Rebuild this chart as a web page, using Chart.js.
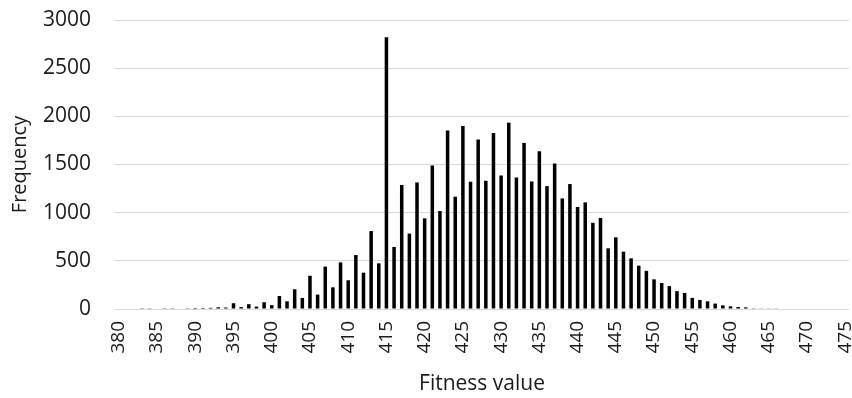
<!DOCTYPE html>
<html>
<head>
<meta charset="utf-8">
<script src="https://cdn.jsdelivr.net/npm/chart.js@4/dist/chart.umd.min.js"></script>
<style>
  html, body { margin: 0; padding: 0; background: #fff; }
  #wrap { width: 852px; height: 398px; position: relative; }
</style>
</head>
<body>
<div id="wrap"><canvas id="chart"></canvas></div>
<script>
const fitness = [
  380, 381, 382, 383, 384, 385, 386, 387, 388, 389,
  390, 391, 392, 393, 394, 395, 396, 397, 398, 399,
  400, 401, 402, 403, 404, 405, 406, 407, 408, 409,
  410, 411, 412, 413, 414, 415, 416, 417, 418, 419,
  420, 421, 422, 423, 424, 425, 426, 427, 428, 429,
  430, 431, 432, 433, 434, 435, 436, 437, 438, 439,
  440, 441, 442, 443, 444, 445, 446, 447, 448, 449,
  450, 451, 452, 453, 454, 455, 456, 457, 458, 459,
  460, 461, 462, 463, 464, 465, 466, 467, 468, 469,
  470, 471, 472, 473, 474, 475
];

const frequency = [
  0, 0, 0, 8, 8, 0, 8, 8, 0, 8,
  10, 10, 12, 18, 15, 60, 20, 50, 25, 70,
  40, 135, 80, 205, 115, 345, 150, 440, 225, 484,
  298, 560, 377, 810, 474, 2820, 644, 1287, 783, 1314,
  941, 1490, 1017, 1852, 1166, 1900, 1321, 1759, 1331, 1828,
  1386, 1934, 1366, 1724, 1324, 1638, 1276, 1510, 1148, 1297,
  1059, 1107, 895, 945, 630, 744, 595, 526, 450, 396,
  308, 270, 238, 186, 166, 115, 94, 80, 56, 38,
  28, 21, 17, 8, 7, 7, 7, 5, 0, 5,
  0, 0, 0, 0, 0, 5
];

const xTickLabels = ['380', '385', '390', '395', '400', '405', '410', '415', '420', '425',
  '430', '435', '440', '445', '450', '455', '460', '465', '470', '475'];
const yTicks = [0, 500, 1000, 1500, 2000, 2500, 3000];

const textColor = '#1a1a1a';
const fontFamily = "'Open Sans', 'Liberation Sans', sans-serif";

const ctx = document.getElementById('chart').getContext('2d');
new Chart(ctx, {
    type: 'bar',
    data: {
        labels: fitness.map(String),
        datasets: [
            { label: 'Frequency', data: frequency, backgroundColor: '#000000', borderWidth: 0, barPercentage: 0.46, categoryPercentage: 1.0 }
        ]
    },
    options: {
        responsive: true,
        maintainAspectRatio: false,
        animation: false,
        layout: { padding: { top: 20, right: 3, left: 0, bottom: 0 } },
        plugins: { legend: { display: false }, tooltip: { enabled: false } },
        scales: {
            x: {
                grid: { display: false },
                border: { display: false },
                ticks: {
                    color: textColor,
                    font: { family: fontFamily, size: 19 },
                    autoSkip: false,
                    maxRotation: 90,
                    minRotation: 90,
                    padding: 4,
                    callback: function(value) {
                        const lbl = this.getLabelForValue(value);
                        return xTickLabels.includes(lbl) ? lbl : '';
                    }
                },
                title: {
                    display: true,
                    text: 'Fitness value',
                    color: textColor,
                    font: { family: fontFamily, size: 21 },
                    padding: { top: 0, bottom: 1 }
                },
                afterFit: function(scale) {
                    scale.height = 89;
                    scale.paddingLeft = 0;
                    scale.paddingRight = 0;
                }
            },
            y: {
                min: 0,
                max: 3000,
                afterBuildTicks: function(scale) { scale.ticks = yTicks.map(v => ({ value: v })); },
                grid: { color: '#d9d9d9', lineWidth: 1, drawTicks: false },
                border: { display: false },
                ticks: {
                    color: textColor,
                    font: { family: fontFamily, size: 21 },
                    padding: 24,
                    callback: v => String(v)
                },
                title: {
                    display: true,
                    text: 'Frequency',
                    color: textColor,
                    font: { family: fontFamily, size: 20 },
                    padding: { top: 8, bottom: 0 }
                },
                afterFit: function(scale) {
                    scale.width = 115;
                    scale.paddingTop = 0;
                    scale.paddingBottom = 0;
                }
            }
        }
    }
});
</script>
</body>
</html>
